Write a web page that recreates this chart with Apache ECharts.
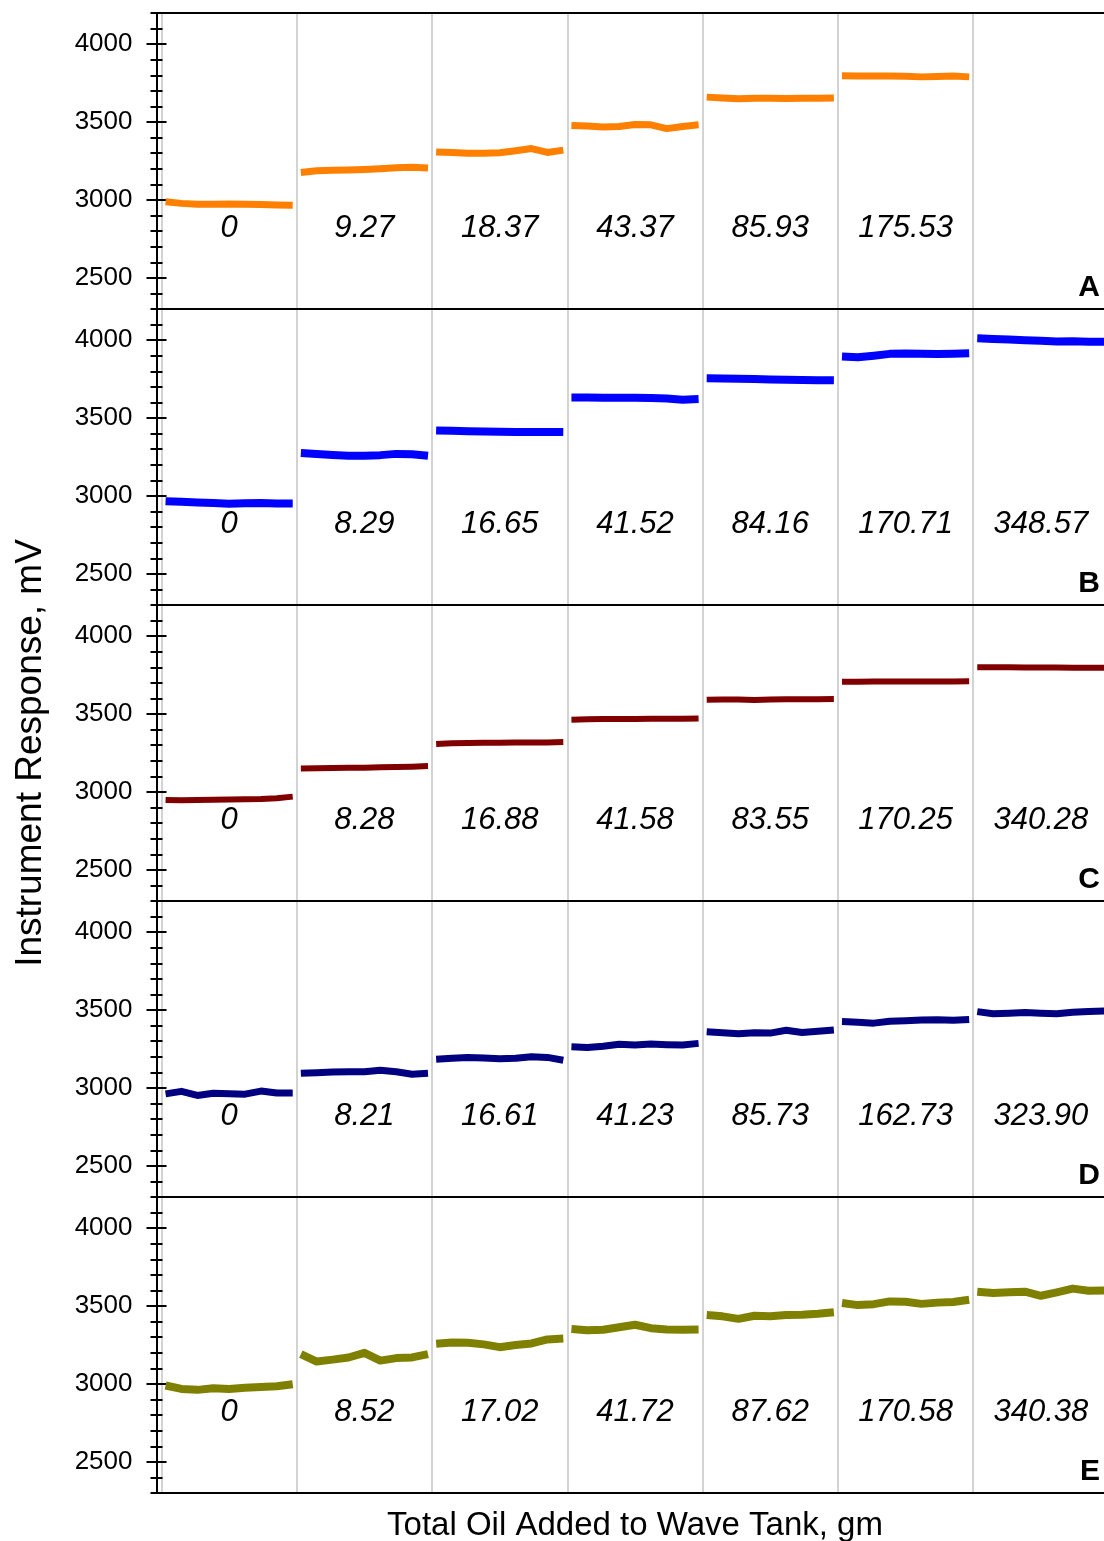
<!DOCTYPE html>
<html><head><meta charset="utf-8">
<script src="https://cdn.jsdelivr.net/npm/echarts@6/dist/echarts.min.js"></script>
<style>html,body{margin:0;padding:0;background:#fff}#chart{width:1104px;height:1541px}</style>
</head><body><div id="chart"></div>
<script>
// ---- data ----
const panelNames = ['A', 'B', 'C', 'D', 'E'];
const panelColors = ['#FF8000', '#0000FF', '#800000', '#000080', '#808000'];
const lineWidths = [7, 8, 6, 7, 8];

const oilA = ['0', '9.27', '18.37', '43.37', '85.93', '175.53', ''];
const oilB = ['0', '8.29', '16.65', '41.52', '84.16', '170.71', '348.57'];
const oilC = ['0', '8.28', '16.88', '41.58', '83.55', '170.25', '340.28'];
const oilD = ['0', '8.21', '16.61', '41.23', '85.73', '162.73', '323.90'];
const oilE = ['0', '8.52', '17.02', '41.72', '87.62', '170.58', '340.38'];

// relative sample positions within each oil-addition step
const samplePos = [0.03, 0.1475, 0.265, 0.3825, 0.5, 0.6175, 0.735, 0.8525, 0.97];

const yMajorTicks = [2500, 3000, 3500, 4000];
const yMinorTicks = [2300, 2400, 2500, 2600, 2700, 2800, 2900, 3000, 3100, 3200, 3300, 3400, 3500, 3600, 3700, 3800, 3900, 4000, 4100, 4200];
const labelLevel = 2815;

const respA = [
  [2988, 2978, 2973, 2972, 2974, 2972, 2970, 2968, 2966],
  [3176, 3188, 3190, 3193, 3196, 3200, 3206, 3210, 3205],
  [3308, 3304, 3300, 3299, 3303, 3316, 3330, 3305, 3320],
  [3478, 3474, 3468, 3472, 3484, 3482, 3458, 3472, 3482],
  [3660, 3654, 3650, 3653, 3652, 3651, 3653, 3653, 3655],
  [3798, 3796, 3795, 3795, 3794, 3790, 3793, 3795, 3790],
  []
];
const respB = [
  [2966, 2962, 2958, 2955, 2950, 2953, 2954, 2952, 2952],
  [3276, 3270, 3263, 3258, 3258, 3262, 3270, 3268, 3258],
  [3420, 3418, 3416, 3414, 3412, 3410, 3410, 3411, 3410],
  [3632, 3632, 3631, 3630, 3630, 3628, 3626, 3618, 3622],
  [3755, 3754, 3752, 3750, 3748, 3746, 3745, 3743, 3743],
  [3895, 3890, 3900, 3912, 3914, 3913, 3911, 3913, 3916],
  [4012, 4008, 4004, 4000, 3996, 3992, 3993, 3990, 3990]
];
const respC = [
  [2948, 2946, 2948, 2950, 2951, 2953, 2955, 2960, 2970],
  [3150, 3152, 3154, 3155, 3156, 3158, 3160, 3162, 3166],
  [3308, 3312, 3314, 3316, 3316, 3318, 3318, 3318, 3320],
  [3464, 3466, 3468, 3468, 3469, 3470, 3470, 3470, 3472],
  [3592, 3594, 3594, 3590, 3594, 3595, 3595, 3595, 3596],
  [3708, 3708, 3709, 3709, 3709, 3709, 3709, 3709, 3710],
  [3800, 3800, 3800, 3799, 3799, 3799, 3798, 3798, 3798]
];
const respD = [
  [2962, 2978, 2952, 2966, 2962, 2960, 2980, 2967, 2968],
  [3094, 3098, 3103, 3104, 3104, 3114, 3104, 3088, 3094],
  [3184, 3190, 3196, 3192, 3188, 3190, 3200, 3196, 3178],
  [3264, 3260, 3268, 3280, 3276, 3282, 3278, 3276, 3286],
  [3360, 3354, 3348, 3354, 3352, 3370, 3356, 3364, 3372],
  [3426, 3422, 3416, 3428, 3432, 3436, 3438, 3434, 3440],
  [3490, 3476, 3480, 3484, 3480, 3476, 3486, 3490, 3494]
];
const respE = [
  [2990, 2968, 2962, 2972, 2968, 2976, 2980, 2985, 2998],
  [3192, 3144, 3156, 3170, 3200, 3150, 3166, 3170, 3192],
  [3258, 3266, 3264, 3254, 3236, 3250, 3260, 3286, 3292],
  [3352, 3344, 3348, 3364, 3380, 3358, 3350, 3348, 3350],
  [3442, 3434, 3418, 3438, 3434, 3442, 3444, 3450, 3460],
  [3520, 3506, 3512, 3530, 3528, 3514, 3522, 3526, 3540],
  [3592, 3584, 3588, 3592, 3566, 3588, 3612, 3598, 3600]
];

const allResp = [respA, respB, respC, respD, respE];
const allOil = [oilA, oilB, oilC, oilD, oilE];

// ---- layout ----
const FONT = 'Liberation Sans, Arial, Helvetica, sans-serif';
const panelTop = 13, panelH = 296, plotLeft = 161.5, plotW = 947;

const grids = [], xAxes = [], yAxes = [], series = [], titles = [];
for (let p = 0; p < 5; p++) {
  grids.push({ left: plotLeft, width: plotW, top: panelTop + panelH * p, height: panelH, containLabel: false, outerBoundsMode: 'none' });
  xAxes.push({
    type: 'value', gridIndex: p, min: 0, max: 7, interval: 1, position: 'bottom',
    axisLine: { show: true, onZero: false, lineStyle: { color: '#000', width: 2 } },
    axisTick: { show: false }, axisLabel: { show: false },
    splitLine: { show: true, lineStyle: { color: '#c4c4c4', width: 1.5 } },
    name: p === 4 ? 'Total Oil Added to Wave Tank, gm' : '',
    nameLocation: 'middle', nameGap: 16,
    nameTextStyle: { fontSize: 33, color: '#000', fontFamily: FONT, verticalAlign: 'top' }
  });
  xAxes.push({
    type: 'value', gridIndex: p, min: 0, max: 7, position: 'top',
    axisLine: { show: true, onZero: false, lineStyle: { color: '#000', width: 2 } },
    axisTick: { show: false }, axisLabel: { show: false }, splitLine: { show: false }
  });
  const yBase = { type: 'value', gridIndex: p, min: 2300, max: 4200, interval: 100, position: 'left', offset: 5, splitLine: { show: false } };
  yAxes.push(Object.assign({}, yBase, {
    axisLine: { show: true, onZero: false, lineStyle: { color: '#000', width: 2 } },
    axisTick: { show: true, customValues: yMajorTicks, length: 10, lineStyle: { color: '#000', width: 2 } },
    axisLabel: { show: true, customValues: yMajorTicks, formatter: v => String(v), margin: 24, fontSize: 26, color: '#000', fontFamily: FONT },
    name: p === 2 ? 'Instrument Response, mV' : '',
    nameLocation: 'middle', nameGap: 107,
    nameTextStyle: { fontSize: 37, color: '#000', fontFamily: FONT }
  }));
  yAxes.push(Object.assign({}, yBase, {
    axisLine: { show: false, onZero: false },
    axisTick: { show: true, inside: true, customValues: yMajorTicks, length: 10, lineStyle: { color: '#000', width: 2 } },
    axisLabel: { show: false }
  }));
  yAxes.push(Object.assign({}, yBase, {
    axisLine: { show: false, onZero: false },
    axisTick: { show: true, customValues: yMinorTicks, length: 6, lineStyle: { color: '#000', width: 2 } },
    axisLabel: { show: false }
  }));
  yAxes.push(Object.assign({}, yBase, {
    axisLine: { show: false, onZero: false },
    axisTick: { show: true, inside: true, customValues: yMinorTicks, length: 6, lineStyle: { color: '#000', width: 2 } },
    axisLabel: { show: false }
  }));

  const resp = allResp[p];
  for (let s = 0; s < 7; s++) {
    const vals = resp[s];
    if (!vals.length) continue;
    series.push({
      type: 'line', xAxisIndex: 2 * p, yAxisIndex: 4 * p,
      data: vals.map((v, j) => [s + samplePos[j], v]),
      showSymbol: false, symbol: 'none', smooth: false, silent: true, animation: false,
      lineStyle: { color: panelColors[p], width: lineWidths[p], cap: 'butt', join: 'round' },
      clip: false
    });
  }
  const oil = allOil[p];
  series.push({
    type: 'scatter', xAxisIndex: 2 * p, yAxisIndex: 4 * p, animation: false, silent: true,
    symbol: 'circle', symbolSize: 1, itemStyle: { color: '#ffffff', opacity: 1 },
    data: oil.map((t, s) => ({ value: [s + 0.5, labelLevel], name: t })).filter(d => d.name !== ''),
    label: {
      show: true, position: 'inside', formatter: d => d.name, opacity: 1,
      fontSize: 31, fontStyle: 'italic', color: '#000000', textBorderWidth: 0, fontFamily: FONT
    }
  });
  titles.push({
    text: panelNames[p], right: 4, top: panelTop + panelH * (p + 1) - 36, padding: 0,
    textStyle: { fontSize: 30, fontWeight: 'bold', color: '#000', fontFamily: FONT }
  });
}

const chart = echarts.init(document.getElementById('chart'), null, { renderer: 'canvas' });
chart.setOption({
  backgroundColor: '#fff',
  animation: false,
  title: titles,
  grid: grids,
  xAxis: xAxes,
  yAxis: yAxes,
  series: series
});
</script>
</body></html>
